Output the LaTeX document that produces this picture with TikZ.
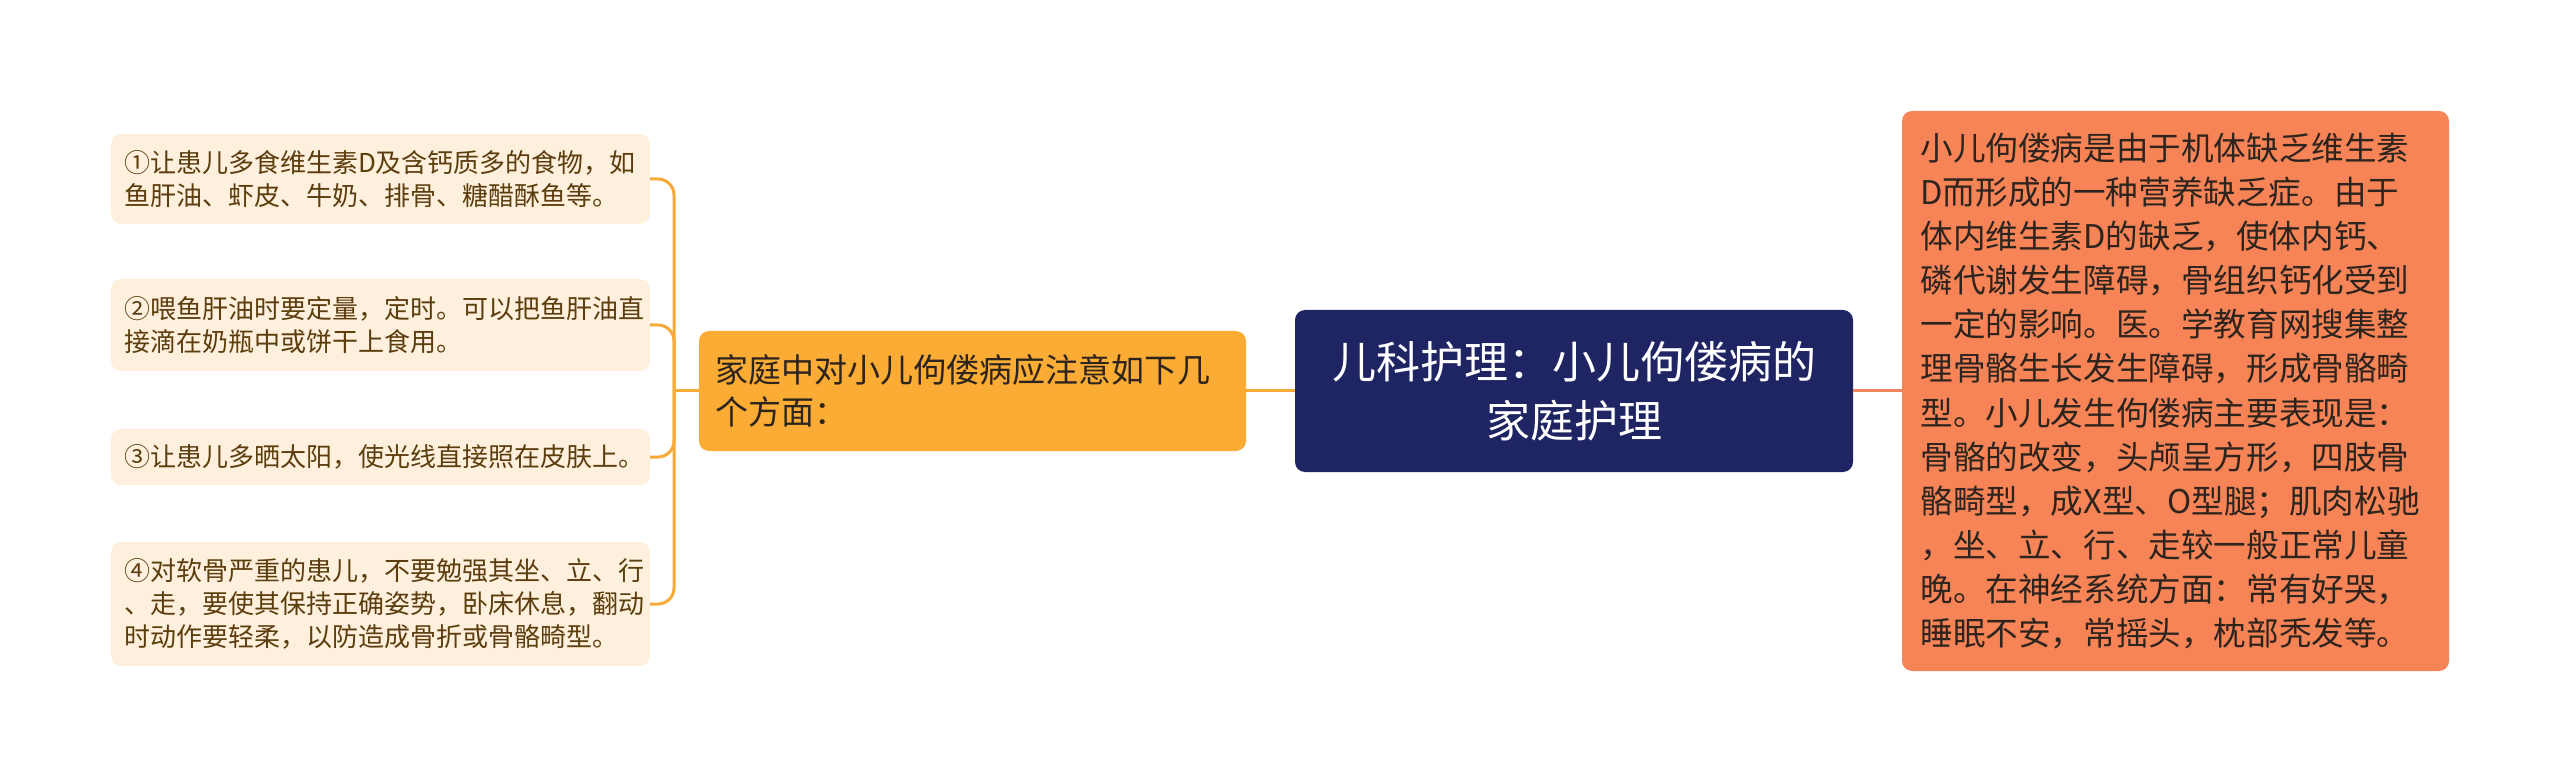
\documentclass[tikz,border=0pt]{standalone}
\usepackage{fontspec}
\setmainfont{Noto Sans CJK SC}
\definecolor{navy}{RGB}{31,37,99}
\definecolor{orangefill}{RGB}{250,172,52}
\definecolor{coral}{RGB}{247,132,87}
\definecolor{leaffill}{RGB}{254,240,220}
\definecolor{leaftext}{RGB}{92,61,14}
\definecolor{linkorange}{RGB}{247,170,55}
\definecolor{linkcoral}{RGB}{242,135,95}
\definecolor{darktext}{RGB}{45,36,30}
\begin{document}
\begin{tikzpicture}[x=1pt,y=-1pt,
  leafbox/.style={fill=leaffill, rounded corners=10pt, text=leaftext, align=left,
    text width=513pt, inner xsep=13pt, inner ysep=0pt,
    font=\fontsize{26}{33}\selectfont},
  midbox/.style={fill=orangefill, rounded corners=10pt, text=darktext, align=left,
    text width=515pt, inner xsep=16pt, inner ysep=0pt, minimum height=120pt,
    font=\fontsize{33}{42.5}\selectfont},
  rootbox/.style={fill=navy, rounded corners=10pt, text=white, align=center,
    minimum width=558pt, minimum height=162pt, inner sep=0pt,
    font=\fontsize{44}{59}\selectfont},
  notebox/.style={fill=coral, rounded corners=10pt, text=darktext, align=left,
    text width=510pt, inner xsep=18.5pt, inner ysep=0pt, minimum height=560pt,
    font=\fontsize{32.6}{44.1}\selectfont},
  leaflink/.style={draw=linkorange, line width=3pt, rounded corners=16pt},
]
\useasboundingbox (0,0) rectangle (2560,783);

\node[rootbox] (root) at (1574,391) {儿科护理：小儿佝偻病的\\家庭护理};
\node[midbox] (mid) at (972.5,391) {家庭中对小儿佝偻病应注意如下几\\个方面：};
\node[notebox] (note) at (2175.5,391) {小儿佝偻病是由于机体缺乏维生素\\D而形成的一种营养缺乏症。由于\\体内维生素D的缺乏，使体内钙、\\磷代谢发生障碍，骨组织钙化受到\\一定的影响。医。学教育网搜集整\\理骨骼生长发生障碍，形成骨骼畸\\型。小儿发生佝偻病主要表现是：\\骨骼的改变，头颅呈方形，四肢骨\\骼畸型，成X型、O型腿；肌肉松驰\\，坐、立、行、走较一般正常儿童\\晚。在神经系统方面：常有好哭，\\睡眠不安，常摇头，枕部秃发等。};

\node[leafbox, minimum height=90pt] (l1) at (380.5,179) {①让患儿多食维生素D及含钙质多的食物，如\\鱼肝油、虾皮、牛奶、排骨、糖醋酥鱼等。};
\node[leafbox, minimum height=92pt] (l2) at (380.5,325) {②喂鱼肝油时要定量，定时。可以把鱼肝油直\\接滴在奶瓶中或饼干上食用。};
\node[leafbox, minimum height=56pt] (l3) at (380.5,457) {③让患儿多晒太阳，使光线直接照在皮肤上。};
\node[leafbox, minimum height=124pt] (l4) at (380.5,604) {④对软骨严重的患儿，不要勉强其坐、立、行\\、走，要使其保持正确姿势，卧床休息，翻动\\时动作要轻柔，以防造成骨折或骨骼畸型。};

\coordinate (tj) at (674,391);
\draw[draw=linkorange, line width=3pt] (root.west) -- (mid.east);
\draw[draw=linkcoral, line width=3pt] (root.east) -- (note.west);
\draw[draw=linkorange, line width=3pt] (mid.west) -- (tj);
\foreach \l in {l1,l2,l3,l4}{
  \draw[leaflink] (tj) |- (\l.east);
}
\end{tikzpicture}
\end{document}
